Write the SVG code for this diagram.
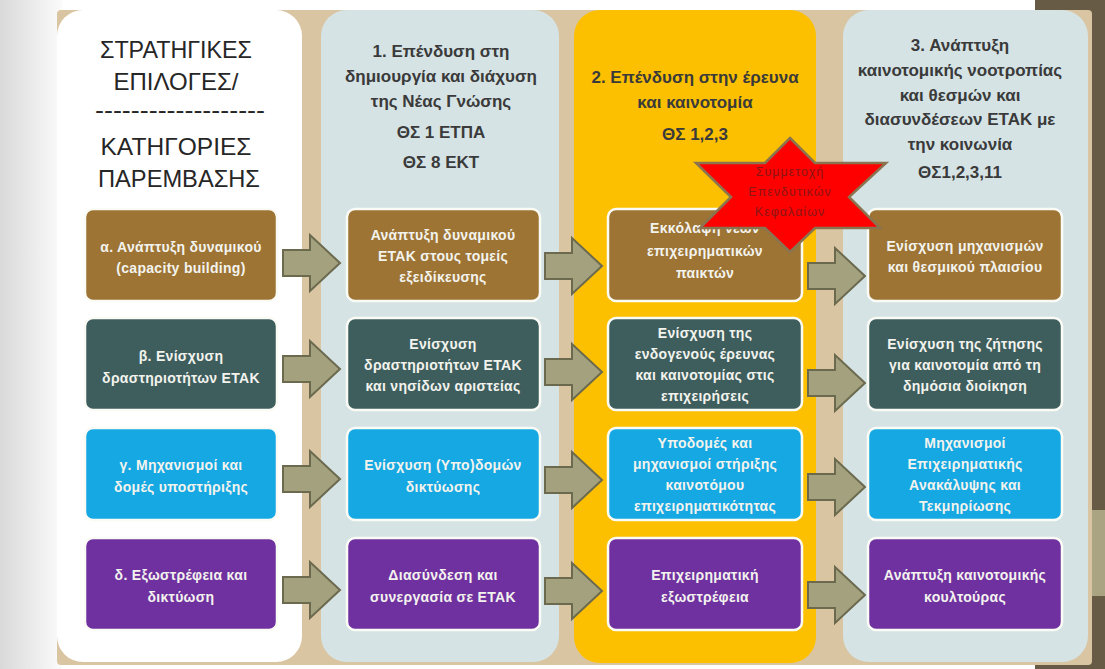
<svg xmlns="http://www.w3.org/2000/svg" width="1105" height="669" viewBox="0 0 1105 669">
<defs>
<linearGradient id="lg" x1="0" y1="0" x2="1" y2="0">
<stop offset="0" stop-color="#d9d9d9"/>
<stop offset="1" stop-color="#fbfbfb"/>
</linearGradient>
</defs>
<style>
.hdr{font-family:"Liberation Sans","DejaVu Sans",sans-serif;font-size:17px;font-weight:bold;fill:#3a3a3a;text-anchor:middle}
.big{font-family:"Liberation Sans","DejaVu Sans",sans-serif;font-size:24px;fill:#262626;text-anchor:middle}
.bt{font-family:"Liberation Sans","DejaVu Sans",sans-serif;font-size:14px;font-weight:bold;fill:#f3f3ee;text-anchor:middle;letter-spacing:0.3px}
.box{stroke:#fbfbf6;stroke-width:2.5}
.brown{fill:#9d7434}.teal{fill:#3e5e5d}.cyan{fill:#15a8e2}.purple{fill:#7031a0}
.arr{fill:#a4a17f;stroke:#6c6a4e;stroke-width:2;stroke-linejoin:miter}
.star text{font-family:"Liberation Sans","DejaVu Sans",sans-serif;font-size:12.5px;fill:#8a1616;text-anchor:middle;letter-spacing:1px}
</style>
<rect x="0" y="0" width="1105" height="669" fill="#ffffff"/>
<rect x="0" y="0" width="62" height="669" fill="url(#lg)"/>
<rect x="1035" y="0" width="70" height="669" fill="#675b45"/>
<rect x="1090" y="510" width="15" height="86" fill="#aaa483"/>
<rect x="57" y="10" width="1035" height="655" rx="4" fill="#dac5a2"/>

<g id="panel0"><rect x="57" y="10" width="245" height="652" rx="26" fill="#ffffff"/>
<text class="big" x="176" y="58" textLength="152" lengthAdjust="spacingAndGlyphs">ΣΤΡΑΤΗΓΙΚΕΣ</text>
<text class="big" x="176" y="90">ΕΠΙΛΟΓΕΣ/</text>
<text class="big" x="180" y="118" textLength="170" lengthAdjust="spacingAndGlyphs">-------------------</text>
<text class="big" x="176" y="155" textLength="151" lengthAdjust="spacingAndGlyphs">ΚΑΤΗΓΟΡΙΕΣ</text>
<text class="big" x="179" y="187" textLength="162" lengthAdjust="spacingAndGlyphs">ΠΑΡΕΜΒΑΣΗΣ</text>
</g>
<g id="panel1"><rect x="321" y="10" width="238" height="652" rx="26" fill="#d5e3e5"/>
<text class="hdr" x="441" y="57">1. Επένδυση στη</text>
<text class="hdr" x="441" y="82">δημιουργία και διάχυση</text>
<text class="hdr" x="441" y="107">της Νέας Γνώσης</text>
<text class="hdr" x="441" y="138">ΘΣ 1 ΕΤΠΑ</text>
<text class="hdr" x="441" y="168">ΘΣ 8 ΕΚΤ</text>
</g>
<g id="panel2"><rect x="574" y="10" width="242" height="653" rx="26" fill="#fdc000"/>
<text class="hdr" x="695" y="83">2. Επένδυση στην έρευνα</text>
<text class="hdr" x="695" y="108">και καινοτομία</text>
<text class="hdr" x="695" y="140">ΘΣ 1,2,3</text>
</g>
<g id="panel3"><rect x="843" y="10" width="245" height="652" rx="26" fill="#d5e3e5"/>
<text class="hdr" x="960" y="51">3. Ανάπτυξη</text>
<text class="hdr" x="960" y="76">καινοτομικής νοοτροπίας</text>
<text class="hdr" x="960" y="101">και θεσμών και</text>
<text class="hdr" x="960" y="125">διασυνδέσεων ΕΤΑΚ με</text>
<text class="hdr" x="960" y="150">την κοινωνία</text>
<text class="hdr" x="960" y="178">ΘΣ1,2,3,11</text>
</g>

<g id="connectors">
<path class="arr" d="M283,250 H310 V235 L340,263 L310,291 V276 H283 Z"/>
<path class="arr" d="M283,356 H310 V341 L340,369 L310,397 V382 H283 Z"/>
<path class="arr" d="M283,466 H310 V451 L340,479 L310,507 V492 H283 Z"/>
<path class="arr" d="M283,577 H310 V562 L340,590 L310,618 V603 H283 Z"/>
<path class="arr" d="M545,253 H572 V238 L602,266 L572,294 V279 H545 Z"/>
<path class="arr" d="M545,359 H572 V344 L602,372 L572,400 V385 H545 Z"/>
<path class="arr" d="M545,467 H572 V452 L602,480 L572,508 V493 H545 Z"/>
<path class="arr" d="M545,578 H572 V563 L602,591 L572,619 V604 H545 Z"/>
<path class="arr" d="M808,263 H835 V248 L865,276 L835,304 V289 H808 Z"/>
<path class="arr" d="M808,370 H835 V355 L865,383 L835,411 V396 H808 Z"/>
<path class="arr" d="M808,474 H835 V459 L865,487 L835,515 V500 H808 Z"/>
<path class="arr" d="M808,582 H835 V567 L865,595 L835,623 V608 H808 Z"/>
</g>

<g id="a"><rect class="box brown" x="85" y="209" width="192" height="92" rx="8"/>
<text class="bt" x="181" y="252">α. Ανάπτυξη δυναμικού</text><text class="bt" x="181" y="273">(capacity building)</text></g>
<g id="b"><rect class="box teal" x="85" y="318" width="192" height="92" rx="8"/>
<text class="bt" x="181" y="361">β. Ενίσχυση</text><text class="bt" x="181" y="383">δραστηριοτήτων ΕΤΑΚ</text></g>
<g id="c"><rect class="box cyan" x="85" y="428" width="192" height="92" rx="8"/>
<text class="bt" x="181" y="470">γ. Μηχανισμοί και</text><text class="bt" x="181" y="492">δομές υποστήριξης</text></g>
<g id="d"><rect class="box purple" x="85" y="538" width="192" height="92" rx="8"/>
<text class="bt" x="181" y="580">δ. Εξωστρέφεια και</text><text class="bt" x="181" y="602">δικτύωση</text></g>

<g id="n11"><rect class="box brown" x="347" y="209" width="193" height="92" rx="8"/>
<text class="bt" x="443" y="240">Ανάπτυξη δυναμικού</text><text class="bt" x="443" y="261">ΕΤΑΚ στους τομείς</text><text class="bt" x="443" y="282">εξειδίκευσης</text></g>
<g id="n12"><rect class="box teal" x="347" y="318" width="193" height="92" rx="8"/>
<text class="bt" x="443" y="349">Ενίσχυση</text><text class="bt" x="443" y="370">δραστηριοτήτων ΕΤΑΚ</text><text class="bt" x="443" y="391">και νησίδων αριστείας</text></g>
<g id="n13"><rect class="box cyan" x="347" y="428" width="193" height="92" rx="8"/>
<text class="bt" x="443" y="470">Ενίσχυση (Υπο)δομών</text><text class="bt" x="443" y="492">δικτύωσης</text></g>
<g id="n14"><rect class="box purple" x="347" y="538" width="193" height="92" rx="8"/>
<text class="bt" x="443" y="580">Διασύνδεση και</text><text class="bt" x="443" y="602">συνεργασία σε ΕΤΑΚ</text></g>

<g id="n21"><rect class="box brown" x="608" y="209" width="194" height="92" rx="8"/>
<text class="bt" x="705" y="233">Εκκόλαψη νέων</text><text class="bt" x="705" y="256">επιχειρηματικών</text><text class="bt" x="705" y="278">παικτών</text></g>
<g id="n22"><rect class="box teal" x="608" y="318" width="194" height="92" rx="8"/>
<text class="bt" x="705" y="338">Ενίσχυση της</text><text class="bt" x="705" y="359">ενδογενούς έρευνας</text><text class="bt" x="705" y="380">και καινοτομίας στις</text><text class="bt" x="705" y="401">επιχειρήσεις</text></g>
<g id="n23"><rect class="box cyan" x="608" y="428" width="194" height="92" rx="8"/>
<text class="bt" x="705" y="448">Υποδομές και</text><text class="bt" x="705" y="469">μηχανισμοί στήριξης</text><text class="bt" x="705" y="490">καινοτόμου</text><text class="bt" x="705" y="511">επιχειρηματικότητας</text></g>
<g id="n24"><rect class="box purple" x="608" y="538" width="194" height="92" rx="8"/>
<text class="bt" x="705" y="580">Επιχειρηματική</text><text class="bt" x="705" y="602">εξωστρέφεια</text></g>

<g id="n31"><rect class="box brown" x="868" y="209" width="194" height="92" rx="8"/>
<text class="bt" x="965" y="251">Ενίσχυση μηχανισμών</text><text class="bt" x="965" y="272">και θεσμικού πλαισίου</text></g>
<g id="n32"><rect class="box teal" x="868" y="318" width="194" height="92" rx="8"/>
<text class="bt" x="965" y="349">Ενίσχυση της ζήτησης</text><text class="bt" x="965" y="370">για καινοτομία από τη</text><text class="bt" x="965" y="391">δημόσια διοίκηση</text></g>
<g id="n33"><rect class="box cyan" x="868" y="428" width="194" height="92" rx="8"/>
<text class="bt" x="965" y="448">Μηχανισμοί</text><text class="bt" x="965" y="469">Επιχειρηματικής</text><text class="bt" x="965" y="490">Ανακάλυψης και</text><text class="bt" x="965" y="511">Τεκμηρίωσης</text></g>
<g id="n34"><rect class="box purple" x="868" y="538" width="194" height="92" rx="8"/>
<text class="bt" x="965" y="580">Ανάπτυξη καινοτομικής</text><text class="bt" x="965" y="602">κουλτούρας</text></g>

<g id="star" class="star">
<polygon points="790,138 815,163 886,163 849,197 880,228 815,228 790,252 765,228 700,228 731,197 696,163 765,163" fill="#fe0000" stroke="#8a7450" stroke-width="2.5" stroke-linejoin="miter"/>
<text x="790" y="176">Συμμετοχή</text>
<text x="790" y="196">Επενδυτικών</text>
<text x="790" y="216">Κεφαλαίων</text>
</g>
</svg>
